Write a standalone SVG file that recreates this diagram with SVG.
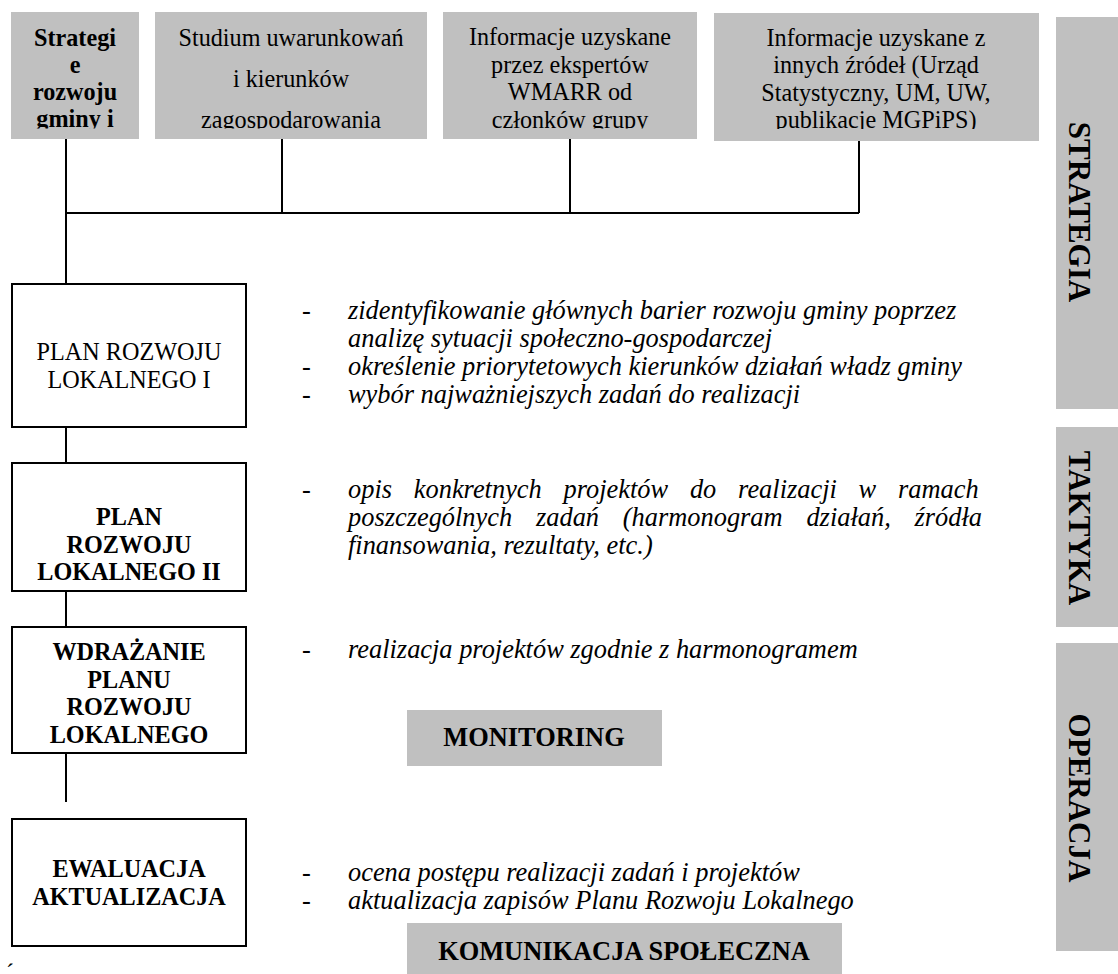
<svg xmlns="http://www.w3.org/2000/svg" width="1118" height="974" viewBox="0 0 1118 974">
<style>
text{font-family:"Liberation Serif","Times New Roman",serif;fill:#000}
.src{fill:#c0c0c0}
.flow{fill:#fff;stroke:#000;stroke-width:2}
.lbl{fill:#c0c0c0}
.t24{font-size:24.2px;text-anchor:middle}
.b{font-weight:bold}
.it{font-size:26.4px;font-style:italic}
.dash{font-size:26.4px}
.big{font-size:26.4px;font-weight:bold;text-anchor:middle}
.vert{font-size:31px;font-weight:bold;text-anchor:middle}
#connectors path{fill:none;stroke:#000;stroke-width:2}
</style>
<defs>
<clipPath id="c1"><rect x="11" y="12" width="128" height="116.5"/></clipPath>
<clipPath id="c2"><rect x="155" y="12" width="272" height="116.5"/></clipPath>
<clipPath id="c3"><rect x="443" y="12" width="254" height="116.5"/></clipPath>
<clipPath id="c4"><rect x="714" y="13" width="325" height="116"/></clipPath>
</defs>
<rect width="1118" height="974" fill="#fff"/>

<g id="connectors">
<path d="M66 139V284"/>
<path d="M66 213H859"/>
<path d="M282 139V213"/>
<path d="M570 139V213"/>
<path d="M859 141V213"/>
<path d="M66 427V463"/>
<path d="M66 591V627"/>
<path d="M66 748V802"/>
</g>

<g id="src1">
<rect class="src" x="11" y="12" width="128" height="127"/>
<g clip-path="url(#c1)">
<text x="75" y="46" class="t24 b">Strategi</text>
<text x="75" y="73" class="t24 b">e</text>
<text x="75" y="100" class="t24 b">rozwoju</text>
<text x="75" y="127" class="t24 b">gminy i</text>
</g>
</g>

<g id="src2">
<rect class="src" x="155" y="12" width="272" height="127"/>
<g clip-path="url(#c2)">
<text x="291" y="46" class="t24">Studium uwarunkowań</text>
<text x="291" y="87" class="t24">i kierunków</text>
<text x="291" y="128" class="t24">zagospodarowania</text>
</g>
</g>

<g id="src3">
<rect class="src" x="443" y="12" width="254" height="127"/>
<g clip-path="url(#c3)">
<text x="570" y="45" class="t24">Informacje uzyskane</text>
<text x="570" y="73" class="t24">przez ekspertów</text>
<text x="570" y="100" class="t24">WMARR od</text>
<text x="570" y="128" class="t24">członków grupy</text>
</g>
</g>

<g id="src4">
<rect class="src" x="714" y="13" width="325" height="128"/>
<g clip-path="url(#c4)">
<text x="876" y="46" class="t24">Informacje uzyskane z</text>
<text x="876" y="73" class="t24">innych źródeł (Urząd</text>
<text x="876" y="101" class="t24">Statystyczny, UM, UW,</text>
<text x="876" y="128" class="t24">publikacje MGPiPS)</text>
</g>
</g>

<g id="plan1">
<rect class="flow" x="12" y="284" width="234" height="143"/>
<text x="129" y="360" class="t24">PLAN ROZWOJU</text>
<text x="129" y="388" class="t24">LOKALNEGO I</text>
</g>

<g id="plan2">
<rect class="flow" x="12" y="463" width="234" height="128"/>
<text x="129" y="525" class="t24 b">PLAN</text>
<text x="129" y="553" class="t24 b">ROZWOJU</text>
<text x="129" y="580" class="t24 b">LOKALNEGO II</text>
</g>

<g id="wdrazanie">
<rect class="flow" x="12" y="627" width="234" height="126"/>
<text x="129" y="660" class="t24 b">WDRAŻANIE</text>
<text x="129" y="688" class="t24 b">PLANU</text>
<text x="129" y="715" class="t24 b">ROZWOJU</text>
<text x="129" y="743" class="t24 b">LOKALNEGO</text>
</g>

<g id="ewaluacja">
<rect class="flow" x="12" y="819" width="234" height="127"/>
<text x="129" y="877" class="t24 b">EWALUACJA</text>
<text x="129" y="905" class="t24 b">AKTUALIZACJA</text>
</g>

<g id="desc1">
<text x="302" y="319" class="dash">-</text>
<text x="348" y="319" class="it">zidentyfikowanie głównych barier rozwoju gminy poprzez</text>
<text x="348" y="347" class="it">analizę sytuacji społeczno-gospodarczej</text>
<text x="302" y="375" class="dash">-</text>
<text x="348" y="375" class="it">określenie priorytetowych kierunków działań władz gminy</text>
<text x="302" y="403" class="dash">-</text>
<text x="348" y="403" class="it">wybór najważniejszych zadań do realizacji</text>
</g>

<g id="desc2">
<text x="302" y="498" class="dash">-</text>
<text x="348" y="498" class="it" word-spacing="15.2">opis konkretnych projektów do realizacji w ramach</text>
<text x="348" y="526" class="it" word-spacing="17.2">poszczególnych zadań (harmonogram działań, źródła</text>
<text x="348" y="554" class="it">finansowania, rezultaty, etc.)</text>
</g>

<g id="desc3">
<text x="302" y="658" class="dash">-</text>
<text x="348" y="658" class="it">realizacja projektów zgodnie z harmonogramem</text>
</g>

<g id="desc4">
<text x="302" y="881" class="dash">-</text>
<text x="348" y="881" class="it">ocena postępu realizacji zadań i projektów</text>
<text x="302" y="909" class="dash">-</text>
<text x="348" y="909" class="it">aktualizacja zapisów Planu Rozwoju Lokalnego</text>
</g>

<g id="monitoring">
<rect class="lbl" x="407" y="710" width="255" height="56"/>
<text x="534" y="746" class="big">MONITORING</text>
</g>

<g id="komunikacja">
<rect class="lbl" x="407" y="923" width="435" height="51"/>
<text x="624" y="960" class="big">KOMUNIKACJA SPOŁECZNA</text>
</g>

<g id="strategia">
<rect class="lbl" x="1056" y="17" width="62" height="392"/>
<text class="vert" transform="translate(1069 212) rotate(90)">STRATEGIA</text>
</g>

<g id="taktyka">
<rect class="lbl" x="1056" y="427" width="62" height="200"/>
<text class="vert" transform="translate(1069 528) rotate(90)">TAKTYKA</text>
</g>

<g id="operacja">
<rect class="lbl" x="1056" y="643" width="62" height="308"/>
<text class="vert" transform="translate(1069 798) rotate(90)">OPERACJA</text>
</g>

<text x="6" y="980" style="font-size:24px">´</text>
</svg>
